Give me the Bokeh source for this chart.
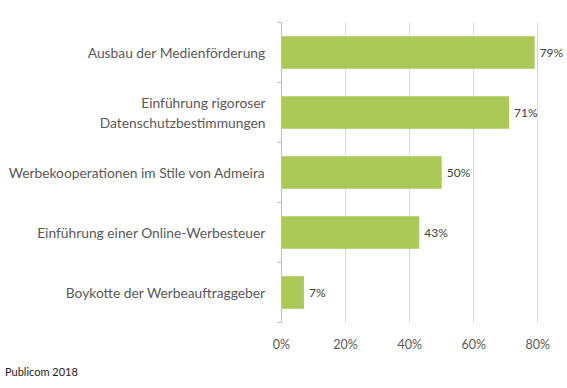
from bokeh.plotting import figure
from bokeh.models import Range1d, FixedTicker, NumeralTickFormatter, ColumnDataSource, Div
from bokeh.layouts import column
from bokeh.core.properties import value
from bokeh.embed import file_html
from bokeh.resources import INLINE

categories = [
    "Ausbau der Medienförderung",
    "Einführung rigoroser\nDatenschutzbestimmungen",
    "Werbekooperationen im Stile von Admeira",
    "Einführung einer Online-Werbesteuer",
    "Boykotte der Werbeauftraggeber",
]
shares = [0.79, 0.71, 0.50, 0.43, 0.07]
share_labels = ["79%", "71%", "50%", "43%", "7%"]
x_ticks = [0, 0.2, 0.4, 0.6, 0.8]
source_note = "Publicom 2018"

n = len(categories)
ypos = [n - i - 0.5 for i in range(n)]

FONT = "Lato"

p = figure(width=563, height=360, output_backend="svg", toolbar_location=None,
           x_range=Range1d(0, 0.88), y_range=Range1d(0, n),
           min_border_left=281, min_border_right=0, min_border_top=22, min_border_bottom=38)
p.outline_line_color = None
p.background_fill_color = "white"

src = ColumnDataSource(dict(y=ypos, v=shares, lab=share_labels))
p.hbar(y="y", right="v", left=0, height=0.545, source=src, color="#AAC956", line_color=None)
p.text(x="v", y="y", text="lab", source=src, x_offset=5, text_baseline="middle",
       text_font=value(FONT), text_font_size="12px", text_color="#404040")

# x axis
p.xaxis.ticker = FixedTicker(ticks=x_ticks)
p.xaxis.formatter = NumeralTickFormatter(format="0%")
p.xaxis.axis_line_color = None
p.xaxis.major_tick_line_color = None
p.xaxis.minor_tick_line_color = None
p.xaxis.major_label_text_font = FONT
p.xaxis.major_label_text_font_size = "12.5px"
p.xaxis.major_label_text_color = "#595959"
p.xaxis.major_label_standoff = 8
p.xgrid.ticker = FixedTicker(ticks=x_ticks)
p.xgrid.grid_line_color = "#d9d9d9"
p.ygrid.grid_line_color = None

# y axis
p.yaxis.ticker = FixedTicker(ticks=ypos, minor_ticks=list(range(n + 1)))
p.yaxis.major_label_overrides = {y: c for y, c in zip(ypos, categories)}
p.yaxis.axis_line_color = "#bfbfbf"
p.yaxis.major_tick_line_color = None
p.yaxis.minor_tick_line_color = "#bfbfbf"
p.yaxis.minor_tick_out = 4
p.yaxis.minor_tick_in = 0
p.yaxis.major_label_text_font = FONT
p.yaxis.major_label_text_font_size = "13.8px"
p.yaxis.major_label_text_color = "#595959"
p.yaxis.major_label_standoff = 10

note = Div(text=source_note, width=200, height=20, margin=(4, 0, 0, 5),
           styles={"font-family": FONT, "font-size": "11px", "color": "#222222"})

layout = column(p, note, spacing=0)
open("out.html", "w").write(file_html(layout, INLINE))
